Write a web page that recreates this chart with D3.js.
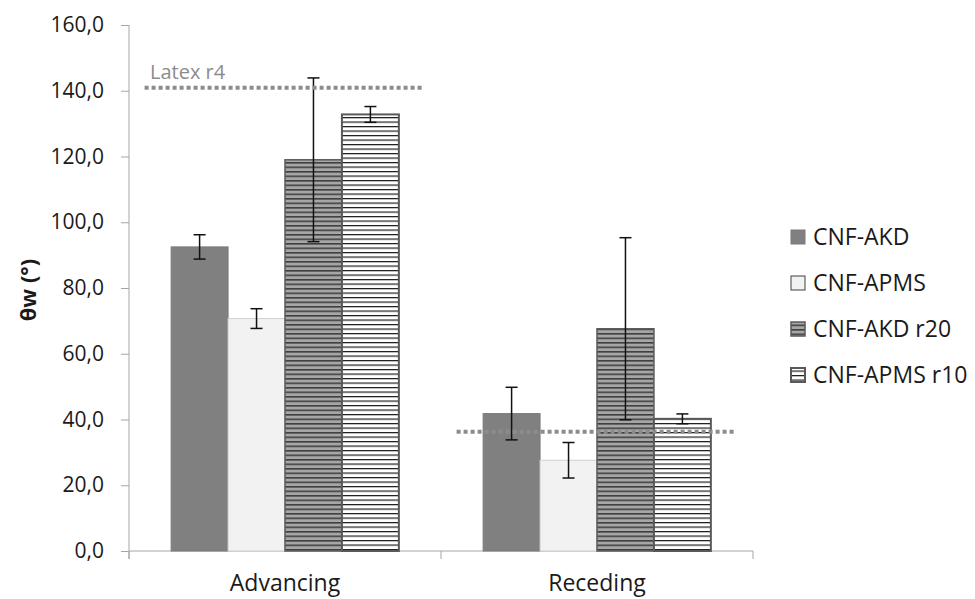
<!DOCTYPE html>
<html>
<head>
<meta charset="utf-8">
<script src="https://cdn.jsdelivr.net/npm/d3@7"></script>
<style>
	body { margin:0; background:#fff; }
	svg text { font-family:"Open Sans", sans-serif; }
</style>
</head>
<body>
<svg id="chart" width="975" height="599"></svg>
<script>
//data
var categories = ["Advancing", "Receding"];
var seriesNames = ["CNF-AKD", "CNF-APMS", "CNF-AKD r20", "CNF-APMS r10"];
var akdMean = [92.5, 41.8];
var apmsMean = [70.7, 27.6];
var akdR20Mean = [119.0, 67.6];
var apmsR10Mean = [132.8, 40.2];
var akdErr = [3.7, 8.0];
var apmsErr = [3.0, 5.4];
var akdR20Err = [24.9, 27.7];
var apmsR10Err = [2.4, 1.5];
var latexR4 = [140.9, 36.3];
var yTicks = [0, 20, 40, 60, 80, 100, 120, 140, 160];

var means = [akdMean, apmsMean, akdR20Mean, apmsR10Mean];
var errs = [akdErr, apmsErr, akdR20Err, apmsR10Err];
var fills = ["#808080", "#f2f2f2", "url(#stripeDark)", "url(#stripeLight)"];
var strokes = ["#7a7a7a", "#d0d0d0", "#5a5a5a", "#595959"];
var strokeW = [1, 1, 1.5, 2];

var svg = d3.select("#chart");

//patterns for striped bars
var defs = svg.append("defs");
var p1 = defs.append("pattern").attr("id", "stripeDark")
	.attr("patternUnits", "userSpaceOnUse").attr("width", 8).attr("height", 4.5);
p1.append("rect").attr("width", 8).attr("height", 4.5).attr("fill", "#a6a6a6");
p1.append("rect").attr("y", 0).attr("width", 8).attr("height", 1.6).attr("fill", "#404040");
var p2 = defs.append("pattern").attr("id", "stripeLight")
	.attr("patternUnits", "userSpaceOnUse").attr("width", 8).attr("height", 4.5);
p2.append("rect").attr("width", 8).attr("height", 4.5).attr("fill", "#ffffff");
p2.append("rect").attr("y", 0).attr("width", 8).attr("height", 1.2).attr("fill", "#1a1a1a");

var x0 = d3.scaleBand().domain(categories).range([129, 753]).paddingInner(0).paddingOuter(0);
var x1 = d3.scaleBand().domain(d3.range(seriesNames.length)).range([0, x0.bandwidth()]).paddingInner(0).paddingOuter(0.74);
var y = d3.scaleLinear().domain([0, 160]).range([551, 25]);

//y axis
var yAxis = svg.append("g").attr("transform", "translate(129,0)")
	.call(d3.axisLeft(y).tickValues(yTicks).tickSize(8).tickPadding(17)
		.tickFormat(function(d) { return d.toFixed(1).replace(".", ","); }));
yAxis.selectAll("path, line").attr("stroke", "#a6a6a6");
yAxis.select(".domain").attr("d", "M0,25V559");
yAxis.selectAll("text").attr("font-size", 21).attr("fill", "#1a1a1a")
	.style("font-family", "'Open Sans', sans-serif");

//x axis
var xAxis = svg.append("g").attr("transform", "translate(0,551)");
xAxis.append("line").attr("x1", 129).attr("x2", 753).attr("y1", 0).attr("y2", 0).attr("stroke", "#a6a6a6");
xAxis.selectAll("line.tk").data(categories.concat(["end"])).enter().append("line")
	.attr("class", "tk")
	.attr("x1", function(d, i) { return i < categories.length ? x0(d) : x0.range()[1]; })
	.attr("x2", function(d, i) { return i < categories.length ? x0(d) : x0.range()[1]; })
	.attr("y1", 0).attr("y2", 8).attr("stroke", "#a6a6a6");
xAxis.selectAll("text").data(categories).enter().append("text")
	.attr("x", function(d) { return x0(d) + x0.bandwidth() / 2; })
	.attr("y", 40).attr("text-anchor", "middle").attr("font-size", 23).attr("fill", "#1a1a1a")
	.text(function(d) { return d; });

//bars
var groups = svg.selectAll("g.grp").data(categories).enter().append("g")
	.attr("class", "grp")
	.attr("transform", function(d) { return "translate(" + x0(d) + ",0)"; });

groups.each(function(cat, ci) {
	var g = d3.select(this);
	seriesNames.forEach(function(s, si) {
		var v = means[si][ci];
		g.append("rect")
			.attr("x", x1(si)).attr("width", x1.bandwidth())
			.attr("y", y(v)).attr("height", y(0) - y(v))
			.attr("fill", fills[si]).attr("stroke", strokes[si]).attr("stroke-width", strokeW[si]);
	});
});

//latex reference lines
svg.selectAll("line.latex").data(categories).enter().append("line")
	.attr("class", "latex")
	.attr("x1", function(d) { return x0(d) + x0.bandwidth() * 0.05; })
	.attr("x2", function(d) { return x0(d) + x0.bandwidth() * 0.94; })
	.attr("y1", function(d, i) { return y(latexR4[i]); })
	.attr("y2", function(d, i) { return y(latexR4[i]); })
	.attr("stroke", "#8c8c8c").attr("stroke-width", 4).attr("stroke-dasharray", "4,3");
svg.append("text").attr("x", 150).attr("y", 79).attr("font-size", 20).attr("fill", "#8c8c8c")
	.text("Latex r4");

//error bars
groups.each(function(cat, ci) {
	var g = d3.select(this);
	seriesNames.forEach(function(s, si) {
		var cx = x1(si) + x1.bandwidth() / 2;
		var hi = y(means[si][ci] + errs[si][ci]);
		var lo = y(means[si][ci] - errs[si][ci]);
		g.append("line").attr("x1", cx).attr("x2", cx).attr("y1", hi).attr("y2", lo)
			.attr("stroke", "#111").attr("stroke-width", 1.5);
		[hi, lo].forEach(function(yy) {
			g.append("line").attr("x1", cx - 6).attr("x2", cx + 6).attr("y1", yy).attr("y2", yy)
				.attr("stroke", "#111").attr("stroke-width", 1.5);
		});
	});
});

//y title
svg.append("text")
	.attr("transform", "translate(36,290) rotate(-90)")
	.attr("text-anchor", "middle").attr("font-size", 22).attr("font-weight", "bold").attr("fill", "#1a1a1a")
	.text("θw (°)");

//legend
var legend = svg.selectAll("g.leg").data(seriesNames).enter().append("g")
	.attr("class", "leg")
	.attr("transform", function(d, i) { return "translate(791," + (237 + i * 46) + ")"; });
legend.append("rect").attr("x", 0).attr("y", -7).attr("width", 14).attr("height", 14)
	.attr("fill", function(d, i) { return fills[i]; })
	.attr("stroke", function(d, i) { return i == 1 ? "#404040" : strokes[i]; })
	.attr("stroke-width", function(d, i) { return i == 1 ? 1 : strokeW[i]; });
legend.append("text").attr("x", 22).attr("y", 0).attr("dy", "0.35em")
	.attr("font-size", 23).attr("fill", "#1a1a1a")
	.text(function(d) { return d; });
</script>
</body>
</html>
